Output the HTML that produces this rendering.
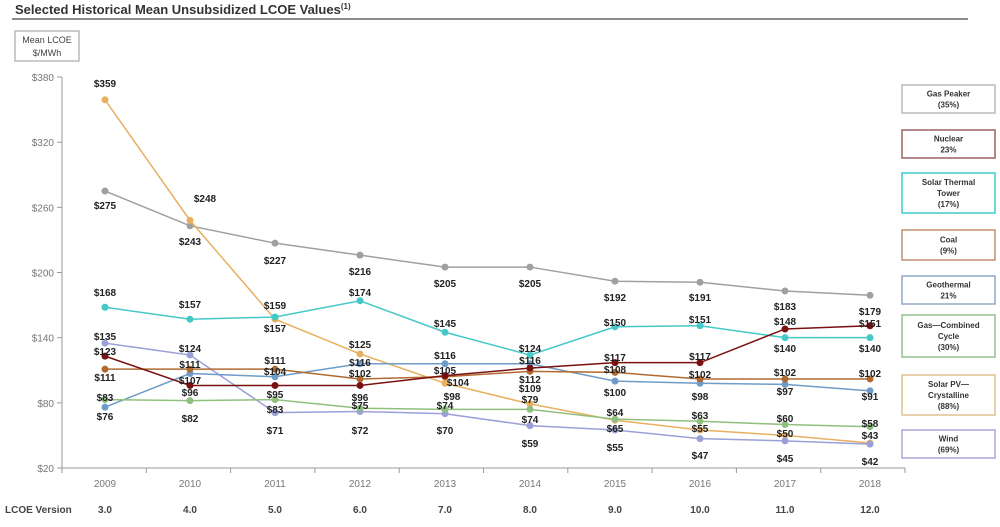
<!DOCTYPE html>
<html><head><meta charset="utf-8"><style>
body{margin:0;background:#fff;font-family:"Liberation Sans",Arial,sans-serif;}
svg text{font-family:"Liberation Sans",Arial,sans-serif;}
</style></head><body>
<svg id="s" width="1000" height="522" xmlns="http://www.w3.org/2000/svg">
<text x="15" y="14" font-size="13" font-weight="bold" fill="#333">Selected Historical Mean Unsubsidized LCOE Values<tspan font-size="8" dy="-5">(1)</tspan></text>
<line x1="12" y1="19" x2="968" y2="19" stroke="#666" stroke-width="1.5"/>
<rect x="15" y="31" width="64" height="30" fill="#fff" stroke="#999"/>
<text x="47" y="43" font-size="9" text-anchor="middle" fill="#444">Mean LCOE</text>
<text x="47" y="56" font-size="9" text-anchor="middle" fill="#444">$/MWh</text>
<g id="g"></g>
</svg>
<script>
var g=document.getElementById('g'),NS='http://www.w3.org/2000/svg';
function el(t,a,txt){var e=document.createElementNS(NS,t);for(var k in a)e.setAttribute(k,a[k]);if(txt)e.textContent=txt;g.appendChild(e);return e;}
function Y(v){return 468-(v-20)*1.0861;}
var X=[105,190,275,360,445,530,615,700,785,870];
// axes
el('line',{x1:62,y1:77,x2:62,y2:468,stroke:'#999'});
el('line',{x1:62,y1:468,x2:905,y2:468,stroke:'#999'});
[20,80,140,200,260,320,380].forEach(function(v){el('line',{x1:57,y1:Y(v),x2:62,y2:Y(v),stroke:'#999'});el('text',{x:54,y:Y(v)+4,'font-size':10,'text-anchor':'end',fill:'#777'},'$'+v);});
for(var i=0;i<=10;i++){var x=62+i*84.3;el('line',{x1:x,y1:468,x2:x,y2:473,stroke:'#999'});}
for(var i=0;i<10;i++){el('text',{x:X[i],y:487,'font-size':10,'text-anchor':'middle',fill:'#777'},String(2009+i));
el('text',{x:X[i],y:513,'font-size':10,'text-anchor':'middle','font-weight':'bold',fill:'#444'},(3+i)+'.0');}
el('text',{x:5,y:513,'font-size':10,'font-weight':'bold',fill:'#444'},'LCOE Version');
var S=[
['#a0a0a0',[275,243,227,216,205,205,192,191,183,179]],
['#e8b060',[359,248,157,125,98,79,64,55,50,43]],
['#45c8c8',[168,157,159,174,145,124,150,151,140,140]],
['#9aa0d8',[135,124,71,72,70,59,55,47,45,42]],
['#6f9bc8',[76,107,104,116,116,116,100,98,97,91]],
['#90c080',[83,82,83,75,74,74,65,63,60,58]],
['#b06a30',[111,111,111,102,104,109,108,102,102,102]],
['#7a1010',[123,96,96,96,105,112,117,117,148,151]]];
S.forEach(function(s){var p=s[1].map(function(v,i){return X[i]+','+Y(v);}).join(' ');
el('polyline',{points:p,fill:'none',stroke:s[0],'stroke-width':1.5});
s[1].forEach(function(v,i){el('circle',{cx:X[i],cy:Y(v),r:3.5,fill:s[0]});});});
var L=[[105,83,359],[105,205,275],[105,292,168],[105,336,135],[105,351,123],[105,377,111],[105,397,83],[105,416,76],
[205,198,248],[190,241,243],[190,304,157],[190,348,124],[190,364,111],[190,380,107],[190,392,96],[190,418,82],
[275,260,227],[275,305,159],[275,328,157],[275,360,111],[275,371,104],[275,394,95],[275,409,83],[275,430,71],
[360,271,216],[360,292,174],[360,344,125],[360,362,116],[360,373,102],[360,397,96],[360,405,75],[360,430,72],
[445,283,205],[445,323,145],[445,355,116],[445,370,105],[458,382,104],[452,396,98],[445,405,74],[445,430,70],
[530,283,205],[530,348,124],[530,360,116],[530,379,112],[530,388,109],[530,399,79],[530,419,74],[530,443,59],
[615,297,192],[615,322,150],[615,357,117],[615,369,108],[615,392,100],[615,412,64],[615,428,65],[615,447,55],
[700,297,191],[700,319,151],[700,356,117],[700,374,102],[700,396,98],[700,415,63],[700,428,55],[700,455,47],
[785,306,183],[785,321,148],[785,348,140],[785,372,102],[785,391,97],[785,418,60],[785,433,50],[785,458,45],
[870,311,179],[870,323,151],[870,348,140],[870,373,102],[870,396,91],[870,423,58],[870,435,43],[870,461,42]];
L.forEach(function(l){el('text',{x:l[0],y:l[1]+4,'font-size':10,'text-anchor':'middle','font-weight':'bold',fill:'#222'},'$'+l[2]);});
var B=[['#bbb',85,28,['Gas Peaker','(35%)']],['#a06060',130,28,['Nuclear','23%']],['#40c8c8',173,40,['Solar Thermal','Tower','(17%)']],
['#c09070',230,30,['Coal','(9%)']],['#90a8c8',276,28,['Geothermal','21%']],['#90c090',315,42,['Gas\u2014Combined','Cycle','(30%)']],
['#e0c090',375,40,['Solar PV\u2014','Crystalline','(88%)']],['#a8a8d8',430,28,['Wind','(69%)']]];
B.forEach(function(b){el('rect',{x:902,y:b[1],width:93,height:b[2],fill:'#fff',stroke:b[0],'stroke-width':1.5});
var n=b[3].length,y0=b[1]+b[2]/2-(n-1)*5.5+3;b[3].forEach(function(t,j){el('text',{x:948.5,y:y0+j*11,'font-size':8,'font-weight':'bold','text-anchor':'middle',fill:'#333'},t);});});
</script>
</body></html>
